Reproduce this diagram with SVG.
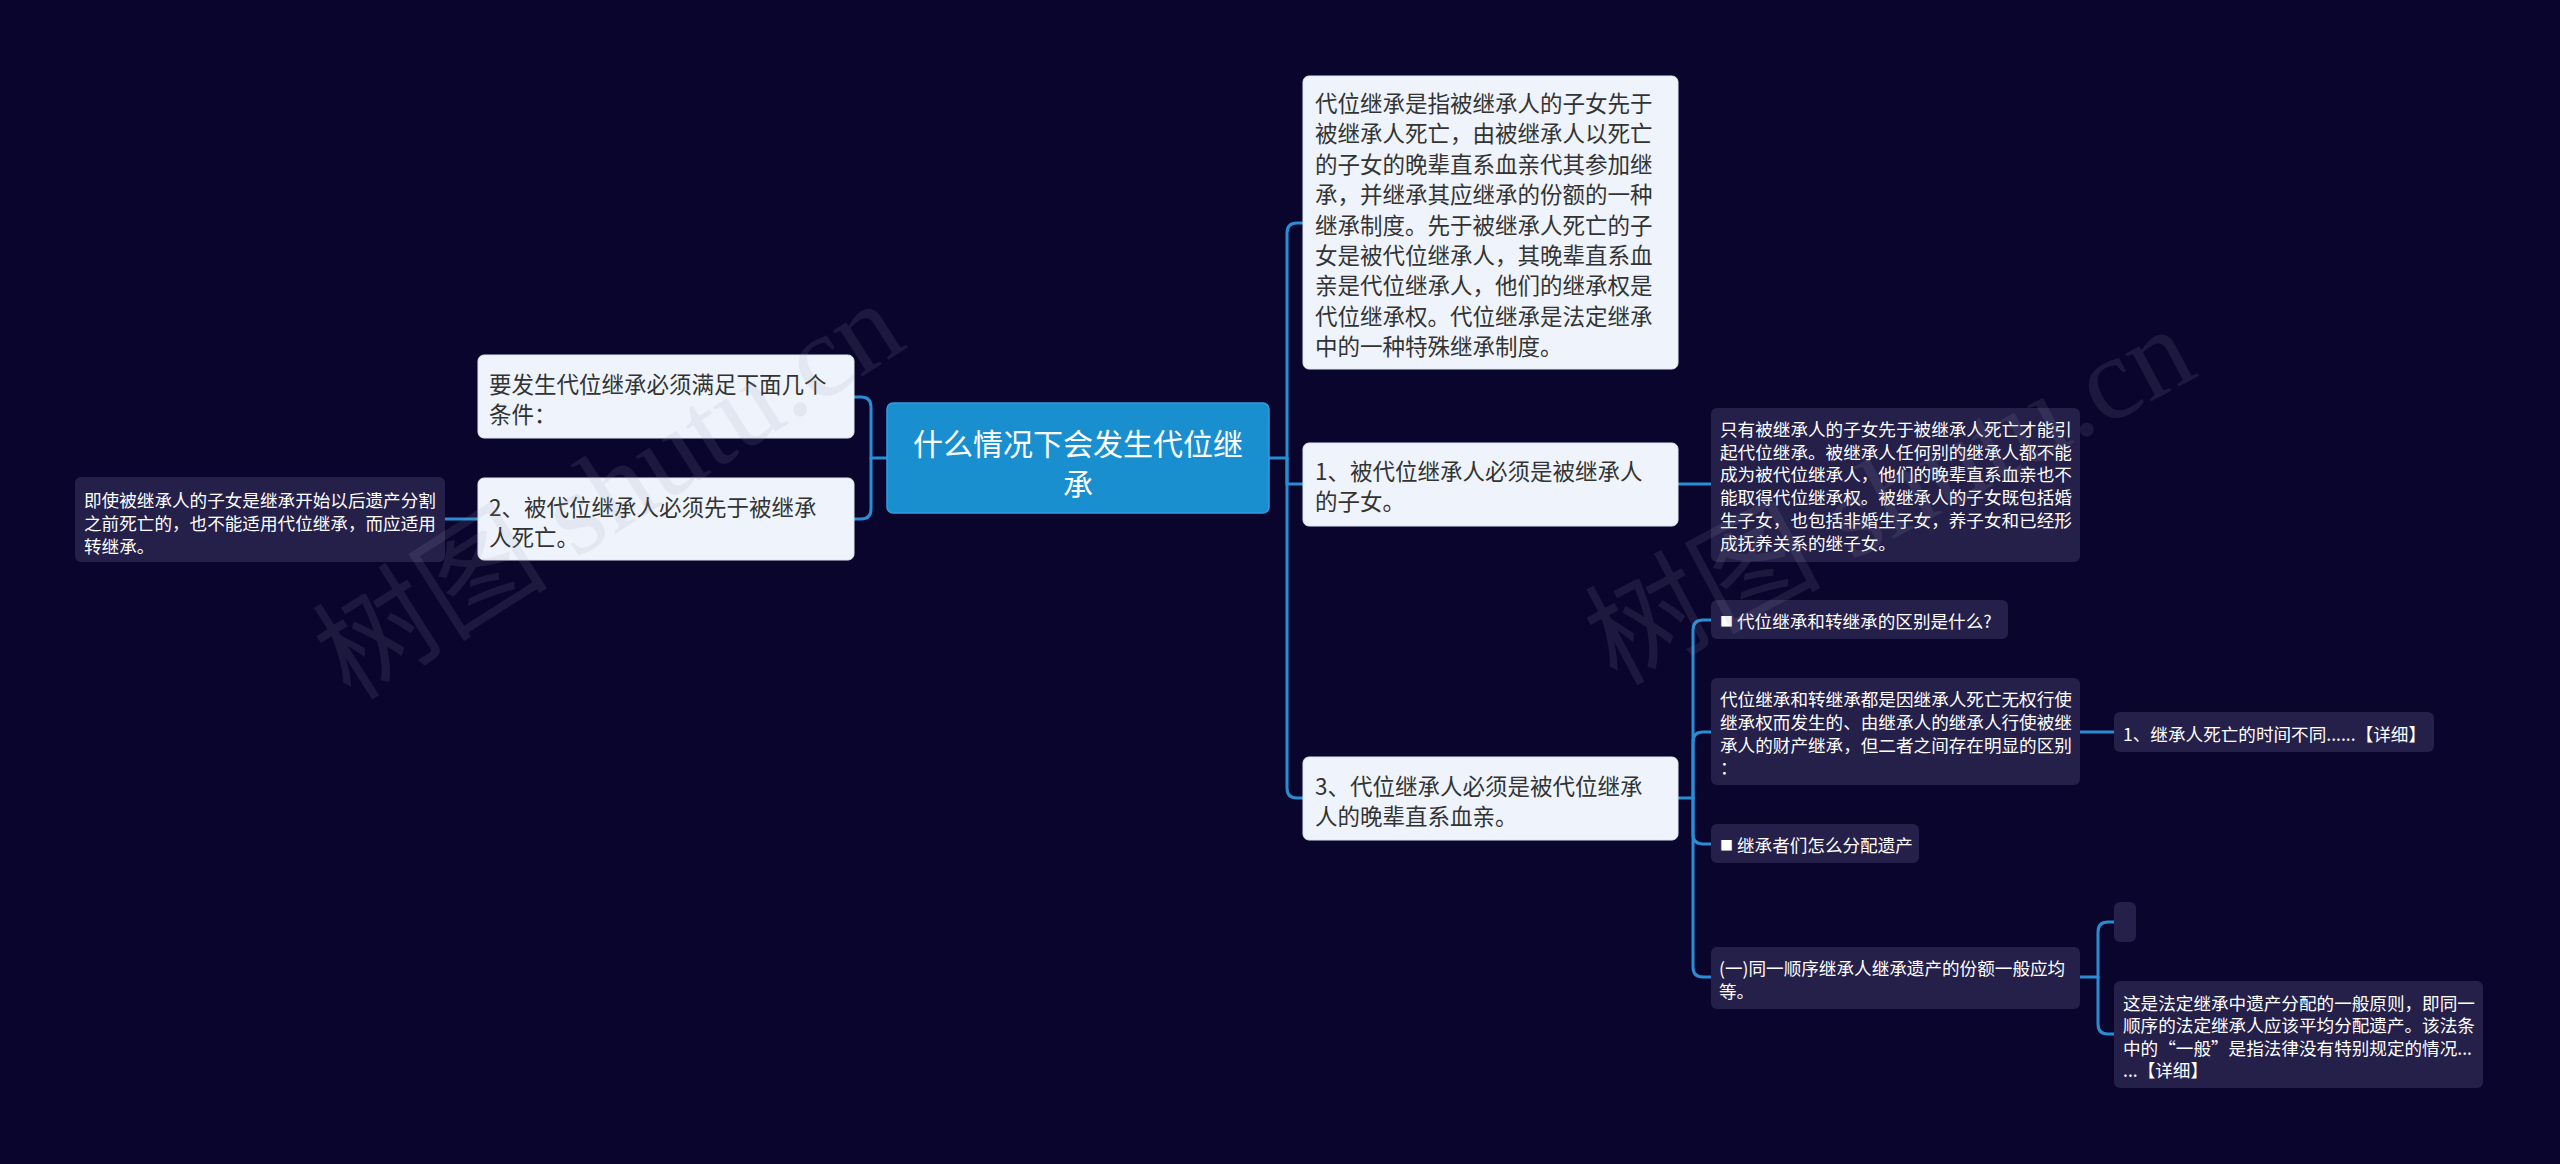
<svg xmlns="http://www.w3.org/2000/svg" width="2560" height="1164" viewBox="0 0 2560 1164">
<style>
.bg{fill:#0a052d}
.root{fill:#1a8fd0;stroke:#2f9fe0;stroke-width:1.5}
.lt{fill:#eef3fc;stroke:#dfe6f2;stroke-width:1}
.dk{fill:#25204a}
.ln{fill:none;stroke:#2a8cd3;stroke-width:3;stroke-linecap:round}
text{font-family:"Noto Sans CJK SC","Liberation Sans",sans-serif;dominant-baseline:central}
.tr{fill:#ffffff;font-size:30px;text-anchor:middle}
.tl{fill:#333333;font-size:22.5px}
.td{fill:#ffffff;font-size:17.6px}
.wm{fill:#9a9ab0;opacity:0.13;font-family:"Liberation Serif","Noto Sans CJK SC",serif;font-size:118px;dominant-baseline:alphabetic}
</style>
<rect class="bg" x="0" y="0" width="2560" height="1164"/>

<g id="connectors">
<path class="ln" d="M1269,458 H1287 V233 Q1287,223 1297,223 H1303"/>
<path class="ln" d="M1287,458 V484 H1303"/>
<path class="ln" d="M1287,458 V788 Q1287,798 1297,798 H1303"/>
<path class="ln" d="M887,458 H871 V407 Q871,397 861,397 H854"/>
<path class="ln" d="M871,458 V509 Q871,519 861,519 H854"/>
<path class="ln" d="M478,519 H445"/>
<path class="ln" d="M1677,484 H1711"/>
<path class="ln" d="M1677,798 H1693 V630 Q1693,620 1703,620 H1711"/>
<path class="ln" d="M1693,798 V742 Q1693,732 1703,732 H1711"/>
<path class="ln" d="M1693,798 V834 Q1693,844 1703,844 H1711"/>
<path class="ln" d="M1693,798 V967 Q1693,977 1703,977 H1711"/>
<path class="ln" d="M2080,732 H2114"/>
<path class="ln" d="M2080,977 H2098 V932 Q2098,922 2108,922 H2114"/>
<path class="ln" d="M2098,977 V1024 Q2098,1034 2108,1034 H2114"/>
</g>

<g id="root">
<rect class="root" x="887" y="403" width="382" height="110" rx="6"/>
<text class="tr" x="1078" y="442">什么情况下会发生代位继</text>
<text class="tr" x="1078" y="482">承</text>
</g>

<g id="n-left1">
<rect class="lt" x="478" y="355" width="376" height="83" rx="6"/>
<text class="tl" x="489" y="383">要发生代位继承必须满足下面几个</text>
<text class="tl" x="489" y="413">条件：</text>
</g>

<g id="n-left2">
<rect class="lt" x="478" y="478" width="376" height="82" rx="6"/>
<text class="tl" x="489" y="506">2、被代位继承人必须先于被继承</text>
<text class="tl" x="489" y="536">人死亡。</text>
</g>

<g id="n-left2-detail">
<rect class="dk" x="75" y="477" width="370" height="85" rx="6"/>
<text class="td" x="84" y="499.5">即使被继承人的子女是继承开始以后遗产分割</text>
<text class="td" x="84" y="522">之前死亡的，也不能适用代位继承，而应适用</text>
<text class="td" x="84" y="545">转继承。</text>
</g>

<g id="n-def">
<rect class="lt" x="1303" y="76" width="375" height="293" rx="6"/>
<text class="tl" x="1315" y="102">代位继承是指被继承人的子女先于</text>
<text class="tl" x="1315" y="132.4">被继承人死亡，由被继承人以死亡</text>
<text class="tl" x="1315" y="162.8">的子女的晚辈直系血亲代其参加继</text>
<text class="tl" x="1315" y="193.2">承，并继承其应继承的份额的一种</text>
<text class="tl" x="1315" y="223.6">继承制度。先于被继承人死亡的子</text>
<text class="tl" x="1315" y="254">女是被代位继承人，其晚辈直系血</text>
<text class="tl" x="1315" y="284.4">亲是代位继承人，他们的继承权是</text>
<text class="tl" x="1315" y="314.8">代位继承权。代位继承是法定继承</text>
<text class="tl" x="1315" y="345.2">中的一种特殊继承制度。</text>
</g>

<g id="n-cond1">
<rect class="lt" x="1303" y="443" width="375" height="83" rx="6"/>
<text class="tl" x="1315" y="470">1、被代位继承人必须是被继承人</text>
<text class="tl" x="1315" y="500">的子女。</text>
</g>

<g id="n-cond1-detail">
<rect class="dk" x="1711" y="408" width="369" height="154" rx="6"/>
<text class="td" x="1720" y="428.5">只有被继承人的子女先于被继承人死亡才能引</text>
<text class="td" x="1720" y="451.2">起代位继承。被继承人任何别的继承人都不能</text>
<text class="td" x="1720" y="473.9">成为被代位继承人，他们的晚辈直系血亲也不</text>
<text class="td" x="1720" y="496.6">能取得代位继承权。被继承人的子女既包括婚</text>
<text class="td" x="1720" y="519.3">生子女，也包括非婚生子女，养子女和已经形</text>
<text class="td" x="1720" y="542">成抚养关系的继子女。</text>
</g>

<g id="n-cond3">
<rect class="lt" x="1303" y="757" width="375" height="83" rx="6"/>
<text class="tl" x="1315" y="785">3、代位继承人必须是被代位继承</text>
<text class="tl" x="1315" y="815">人的晚辈直系血亲。</text>
</g>

<g id="n-q1">
<rect class="dk" x="1711" y="600" width="297" height="39" rx="6"/>
<text class="td" x="1720" y="620"><tspan font-size="13px">■</tspan> 代位继承和转继承的区别是什么?</text>
</g>

<g id="n-diff">
<rect class="dk" x="1711" y="678" width="369" height="107" rx="6"/>
<text class="td" x="1720" y="698.5">代位继承和转继承都是因继承人死亡无权行使</text>
<text class="td" x="1720" y="721.3">继承权而发生的、由继承人的继承人行使被继</text>
<text class="td" x="1720" y="744.1">承人的财产继承，但二者之间存在明显的区别</text>
<text class="td" x="1720" y="766.9">：</text>
</g>

<g id="n-diff-1">
<rect class="dk" x="2114" y="712" width="320" height="40" rx="6"/>
<text class="td" x="2123" y="733">1、继承人死亡的时间不同......【详细】</text>
</g>

<g id="n-q2">
<rect class="dk" x="1711" y="824" width="208" height="39" rx="6"/>
<text class="td" x="1720" y="844"><tspan font-size="13px">■</tspan> 继承者们怎么分配遗产</text>
</g>

<g id="n-equal">
<rect class="dk" x="1711" y="947" width="369" height="62" rx="6"/>
<text class="td" x="1719" y="967.5">(一)同一顺序继承人继承遗产的份额一般应均</text>
<text class="td" x="1719" y="990">等。</text>
</g>

<g id="n-empty">
<rect class="dk" x="2114" y="902" width="22" height="40" rx="6"/>
</g>

<g id="n-equal-detail">
<rect class="dk" x="2114" y="981" width="369" height="107" rx="6"/>
<text class="td" x="2123" y="1002">这是法定继承中遗产分配的一般原则，即同一</text>
<text class="td" x="2123" y="1024.5">顺序的法定继承人应该平均分配遗产。该法条</text>
<text class="td" x="2123" y="1047">中的“一般”是指法律没有特别规定的情况...</text>
<text class="td" x="2123" y="1069.5">...【详细】</text>
</g>

<g id="watermarks">
<text class="wm" transform="translate(351,702) rotate(-32.5)">树图 shutu.cn</text>
<text class="wm" transform="translate(1616,686) rotate(-28)">树图 shutu.cn</text>
</g>
</svg>
